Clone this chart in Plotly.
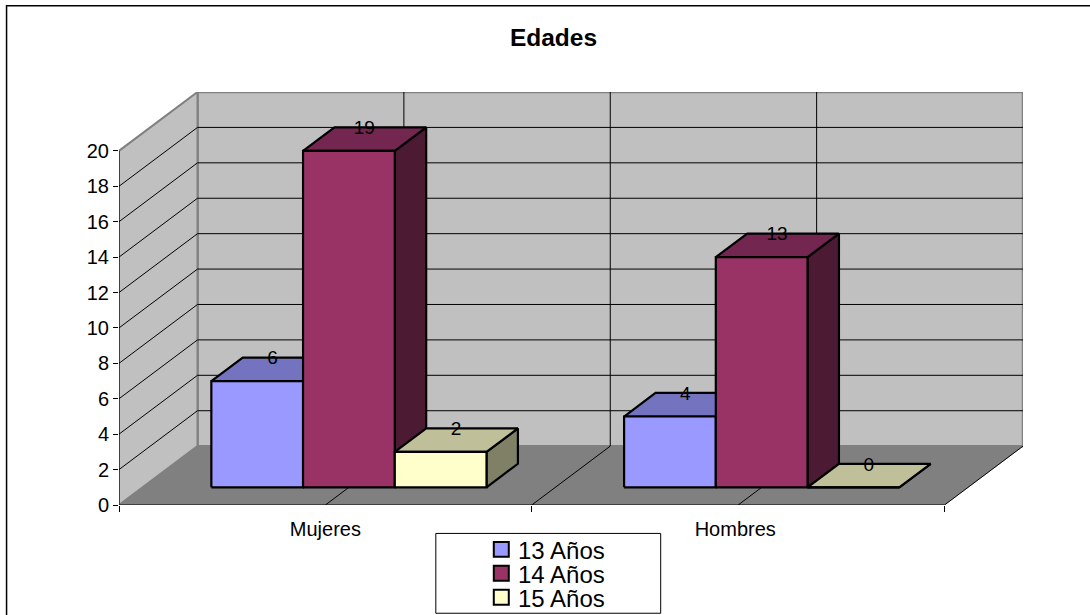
import plotly.graph_objects as go

# values
categories = ["Mujeres", "Hombres"]
category_pos = [0.5, 1.493]
series_names = ["13 Años", "14 Años", "15 Años"]
edad_13 = [6, 4]
edad_14 = [19, 13]
edad_15 = [2, 0]
y_ticks = [0, 2, 4, 6, 8, 10, 12, 14, 16, 18, 20]
x_grid = [0.5, 1, 1.5]

W, H = 1090, 615
L, R, T, B = 118.5, 67, 91.5, 109.5
FONT = "Liberation Sans"

# fake 3d: how far the back of the box is shifted, in axis units
DEPTH_X = 0.1902
DEPTH_Y = 3.324
Y_MAX = 20
BAR_W = 1 / 4.5
GAP = 0.75 * BAR_W
D_FRONT, D_BACK = 0.3, 0.7

FACES = [
    ("#9999FF", "#7373BF", "#4D4D80"),
    ("#993366", "#732650", "#4D1A33"),
    ("#FFFFCC", "#BFBF99", "#808066"),
]


def project(c, v, d=0.0):
    return c + DEPTH_X * d, v + DEPTH_Y * d


def px_x(x):
    return (x - L) / (W - L - R)


def px_y(y):
    return (H - B - y) / (H - T - B)


def poly(points, fill, line="black", width=2.2):
    xs = [p[0] for p in points] + [points[0][0]]
    ys = [p[1] for p in points] + [points[0][1]]
    return go.Scatter(x=xs, y=ys, mode="lines", fill="toself", fillcolor=fill,
                      line=dict(color=line, width=width), cliponaxis=False,
                      showlegend=False, hoverinfo="skip")


def lines(segments, color="black", width=1):
    xs, ys = [], []
    for a, b in segments:
        xs += [a[0], b[0], None]
        ys += [a[1], b[1], None]
    return go.Scatter(x=xs, y=ys, mode="lines", line=dict(color=color, width=width),
                      cliponaxis=False, showlegend=False, hoverinfo="skip")


fig = go.Figure()

# walls and floor
n = len(categories)
fig.add_trace(poly([project(0, 0, 1), project(n, 0, 1), project(n, Y_MAX, 1), project(0, Y_MAX, 1)], "#C0C0C0", "#808080", 2.5))
fig.add_trace(poly([project(0, 0), project(0, 0, 1), project(0, Y_MAX, 1), project(0, Y_MAX)], "#C0C0C0", "#808080", 2))
fig.add_trace(poly([project(0, 0), project(n, 0), project(n, 0, 1), project(0, 0, 1)], "#808080", "#808080", 0.5))

# gridlines
grid = []
for v in y_ticks[1:-1]:
    grid.append((project(0, v), project(0, v, 1)))
    grid.append((project(0, v, 1), project(n, v, 1)))
for c in x_grid:
    grid.append((project(c, 0), project(c, 0, 1)))
    grid.append((project(c, 0, 1), project(c, Y_MAX, 1)))
fig.add_trace(lines(grid))

# front edges of the box
fig.add_trace(lines([
    (project(0, 0), project(0, Y_MAX)),
    (project(0, 0), project(n, 0)),
    (project(n, 0), project(n, 0, 1)),
]))

# bars, left to right so the later ones cover the earlier side faces
label_x, label_y, label_text = [], [], []
for i in range(n):
    for s, values in enumerate([edad_13, edad_14, edad_15]):
        v = values[i]
        x0 = i + GAP + s * BAR_W
        x1 = x0 + BAR_W
        front, top, side = FACES[s]
        fig.add_trace(poly([project(x1, 0, D_FRONT), project(x1, 0, D_BACK), project(x1, v, D_BACK), project(x1, v, D_FRONT)], side))
        fig.add_trace(poly([project(x0, v, D_FRONT), project(x1, v, D_FRONT), project(x1, v, D_BACK), project(x0, v, D_BACK)], top))
        fig.add_trace(poly([project(x0, 0, D_FRONT), project(x1, 0, D_FRONT), project(x1, v, D_FRONT), project(x0, v, D_FRONT)], front))
        lx, ly = project((x0 + x1) / 2, v, D_BACK)
        label_x.append(lx - 0.039)
        label_y.append(ly - 0.11)
        label_text.append(str(v))

fig.add_trace(go.Scatter(x=label_x, y=label_y, text=label_text, mode="text", textposition="middle center",
                         textfont=dict(family=FONT, size=19, color="black"), cliponaxis=False,
                         showlegend=False, hoverinfo="skip"))

# outer frame and legend box
shapes = [
    dict(type="rect", xref="paper", yref="paper", x0=px_x(6), x1=px_x(W + 10), y0=px_y(H + 10), y1=px_y(5),
         line=dict(color="black", width=1.5), layer="below"),
    dict(type="rect", xref="paper", yref="paper", x0=px_x(435.5), x1=px_x(660.5), y0=px_y(614), y1=px_y(534),
         line=dict(color="black", width=1), fillcolor="white"),
]
annotations = []
for s, name in enumerate(series_names):
    row = 550 + 24 * s
    shapes.append(dict(type="rect", xref="paper", yref="paper", x0=px_x(493.5), x1=px_x(508.5),
                       y0=px_y(row + 7.5), y1=px_y(row - 7.5), fillcolor=FACES[s][0],
                       line=dict(color="black", width=2)))
    annotations.append(dict(xref="paper", yref="paper", x=px_x(515.5), y=px_y(row + 1), text=name, showarrow=False,
                            xanchor="left", yanchor="middle", height=23,
                            font=dict(family=FONT, size=24, color="black")))

fig.update_layout(
    width=W, height=H,
    margin=dict(l=L, r=R, t=T, b=B, pad=0),
    paper_bgcolor="white", plot_bgcolor="white",
    showlegend=False,
    shapes=shapes,
    annotations=annotations,
    title=dict(text="<b>Edades</b>", x=553.5 / W, y=1 - 37 / H, xref="container",
               xanchor="center", yanchor="middle", font=dict(family=FONT, size=24.5, color="black")),
    xaxis=dict(range=[0, n + DEPTH_X], showgrid=False, zeroline=False, showline=False,
               tickmode="array", tickvals=category_pos, ticktext=categories, ticks="",
               ticklabelstandoff=10, tickfont=dict(family=FONT, size=20, color="black"),
               minor=dict(tickmode="array", tickvals=list(range(n + 1)), ticks="outside", ticklen=6,
                          tickcolor="black", tickwidth=1, showgrid=False)),
    yaxis=dict(range=[0, Y_MAX + DEPTH_Y], showgrid=False, zeroline=False, showline=False,
               tickmode="array", tickvals=y_ticks, ticks="outside", ticklen=5, tickcolor="black", tickwidth=1,
               tickfont=dict(family=FONT, size=20, color="black")),
)

fig.write_html("out.html", config=dict(displayModeBar=False),
               post_script="document.body.style.margin='0';document.documentElement.style.overflow='hidden';")
